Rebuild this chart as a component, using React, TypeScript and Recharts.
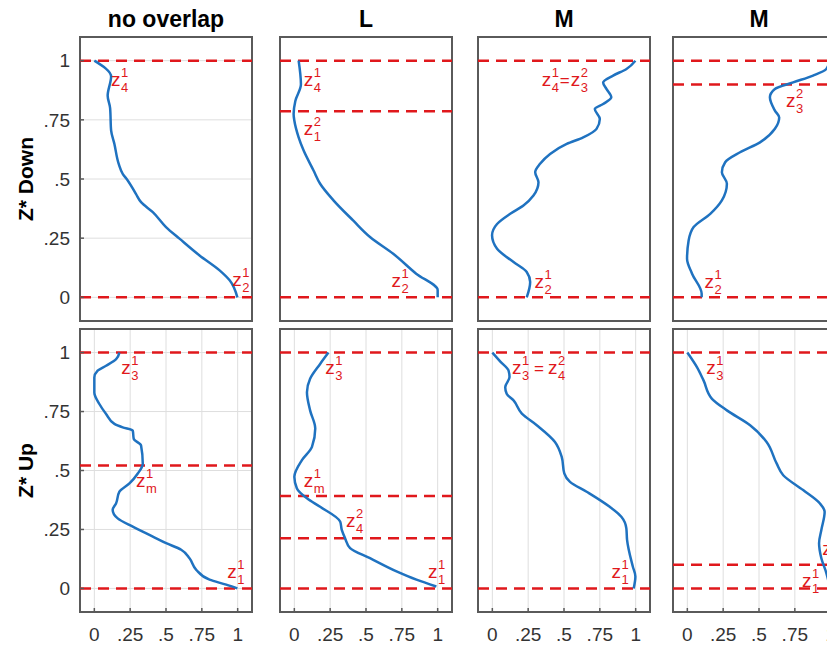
import React from 'react';
import { LineChart, Line, XAxis, YAxis, CartesianGrid, ReferenceLine, ReferenceDot, ReferenceArea } from 'recharts';

const ticks = [0, 0.25, 0.5, 0.75, 1];
const columnTitles = ['no overlap', 'L', 'M', 'M'];
const rowTitles = ['Z* Down', 'Z* Up'];

// velocity profiles, from the top (z = 1) down to the bottom (z = 0)
const downNoOverlap = [
  { x: 0.0, z: 1.0 }, { x: 0.117, z: 0.933 }, { x: 0.093, z: 0.852 }, { x: 0.11, z: 0.8 },
  { x: 0.117, z: 0.705 }, { x: 0.14, z: 0.648 }, { x: 0.17, z: 0.564 }, { x: 0.198, z: 0.522 },
  { x: 0.233, z: 0.494 }, { x: 0.29, z: 0.437 }, { x: 0.326, z: 0.402 }, { x: 0.408, z: 0.36 },
  { x: 0.5, z: 0.297 }, { x: 0.594, z: 0.248 }, { x: 0.734, z: 0.177 }, { x: 0.874, z: 0.114 },
  { x: 0.944, z: 0.072 }, { x: 0.998, z: 0.0 },
];
const downL = [
  { x: 0.03, z: 1.0 }, { x: 0.046, z: 0.9 }, { x: 0.007, z: 0.83 }, { x: -0.005, z: 0.775 },
  { x: 0.0, z: 0.747 }, { x: 0.03, z: 0.676 }, { x: 0.065, z: 0.62 }, { x: 0.134, z: 0.536 },
  { x: 0.18, z: 0.48 }, { x: 0.273, z: 0.41 }, { x: 0.41, z: 0.325 }, { x: 0.53, z: 0.254 },
  { x: 0.69, z: 0.184 }, { x: 0.85, z: 0.1 }, { x: 1.0, z: 0.03 }, { x: 1.0, z: 0.0 },
];
const downM1 = [
  { x: 0.998, z: 1.0 }, { x: 0.936, z: 0.965 }, { x: 0.843, z: 0.937 }, { x: 0.773, z: 0.908 },
  { x: 0.797, z: 0.88 }, { x: 0.83, z: 0.845 }, { x: 0.773, z: 0.817 }, { x: 0.715, z: 0.796 },
  { x: 0.75, z: 0.754 }, { x: 0.727, z: 0.712 }, { x: 0.634, z: 0.676 }, { x: 0.519, z: 0.648 },
  { x: 0.403, z: 0.606 }, { x: 0.333, z: 0.564 }, { x: 0.299, z: 0.529 }, { x: 0.322, z: 0.486 },
  { x: 0.287, z: 0.43 }, { x: 0.217, z: 0.388 }, { x: 0.125, z: 0.353 }, { x: 0.033, z: 0.31 },
  { x: -0.002, z: 0.262 }, { x: 0.033, z: 0.205 }, { x: 0.148, z: 0.149 }, { x: 0.24, z: 0.107 },
  { x: 0.264, z: 0.065 }, { x: 0.24, z: 0.0 },
];
const downM2 = [
  { x: 0.993, z: 1.0 }, { x: 0.97, z: 0.965 }, { x: 0.877, z: 0.937 }, { x: 0.738, z: 0.908 },
  { x: 0.611, z: 0.88 }, { x: 0.576, z: 0.845 }, { x: 0.611, z: 0.789 }, { x: 0.641, z: 0.76 },
  { x: 0.611, z: 0.712 }, { x: 0.507, z: 0.655 }, { x: 0.368, z: 0.613 }, { x: 0.264, z: 0.571 },
  { x: 0.241, z: 0.529 }, { x: 0.276, z: 0.48 }, { x: 0.241, z: 0.41 }, { x: 0.16, z: 0.353 },
  { x: 0.044, z: 0.297 }, { x: 0.009, z: 0.24 }, { x: -0.002, z: 0.163 }, { x: 0.033, z: 0.1 },
  { x: 0.1, z: 0.015 }, { x: 0.1, z: 0.0 },
];
const upNoOverlap = [
  { x: 0.175, z: 1.0 }, { x: 0.152, z: 0.972 }, { x: 0.082, z: 0.944 }, { x: 0.023, z: 0.923 },
  { x: 0.0, z: 0.894 }, { x: 0.0, z: 0.831 }, { x: 0.035, z: 0.782 }, { x: 0.082, z: 0.74 },
  { x: 0.14, z: 0.698 }, { x: 0.198, z: 0.683 }, { x: 0.268, z: 0.669 }, { x: 0.275, z: 0.634 },
  { x: 0.326, z: 0.606 }, { x: 0.338, z: 0.529 }, { x: 0.303, z: 0.487 }, { x: 0.245, z: 0.445 },
  { x: 0.175, z: 0.41 }, { x: 0.152, z: 0.361 }, { x: 0.128, z: 0.333 }, { x: 0.163, z: 0.297 },
  { x: 0.268, z: 0.262 }, { x: 0.408, z: 0.22 }, { x: 0.501, z: 0.192 }, { x: 0.606, z: 0.164 },
  { x: 0.664, z: 0.128 }, { x: 0.711, z: 0.079 }, { x: 0.804, z: 0.037 }, { x: 0.92, z: 0.016 },
  { x: 0.998, z: 0.0 },
];
const upL = [
  { x: 0.238, z: 1.0 }, { x: 0.18, z: 0.952 }, { x: 0.11, z: 0.889 }, { x: 0.088, z: 0.832 },
  { x: 0.11, z: 0.755 }, { x: 0.146, z: 0.678 }, { x: 0.123, z: 0.6 }, { x: 0.053, z: 0.544 },
  { x: 0.0, z: 0.473 }, { x: 0.018, z: 0.424 }, { x: 0.088, z: 0.382 }, { x: 0.18, z: 0.346 },
  { x: 0.32, z: 0.283 }, { x: 0.331, z: 0.248 }, { x: 0.354, z: 0.213 }, { x: 0.389, z: 0.171 },
  { x: 0.528, z: 0.128 }, { x: 0.713, z: 0.072 }, { x: 0.852, z: 0.037 }, { x: 0.991, z: 0.008 },
];
const upM1 = [
  { x: 0.0, z: 1.0 }, { x: 0.056, z: 0.962 }, { x: 0.113, z: 0.924 }, { x: 0.12, z: 0.896 },
  { x: 0.09, z: 0.853 }, { x: 0.1, z: 0.825 }, { x: 0.148, z: 0.797 }, { x: 0.206, z: 0.741 },
  { x: 0.31, z: 0.692 }, { x: 0.437, z: 0.621 }, { x: 0.484, z: 0.558 }, { x: 0.502, z: 0.488 },
  { x: 0.542, z: 0.452 }, { x: 0.658, z: 0.41 }, { x: 0.819, z: 0.346 }, { x: 0.9, z: 0.304 },
  { x: 0.935, z: 0.255 }, { x: 0.94, z: 0.206 }, { x: 0.98, z: 0.093 }, { x: 0.998, z: 0.051 },
  { x: 0.986, z: 0.0 },
];
const upM2 = [
  { x: 0.0, z: 1.0 }, { x: 0.067, z: 0.938 }, { x: 0.113, z: 0.882 }, { x: 0.172, z: 0.804 },
  { x: 0.276, z: 0.755 }, { x: 0.438, z: 0.692 }, { x: 0.553, z: 0.621 }, { x: 0.623, z: 0.53 },
  { x: 0.669, z: 0.48 }, { x: 0.808, z: 0.417 }, { x: 0.924, z: 0.361 }, { x: 0.958, z: 0.325 },
  { x: 0.935, z: 0.248 }, { x: 0.919, z: 0.192 }, { x: 0.935, z: 0.128 }, { x: 0.97, z: 0.065 },
  { x: 0.993, z: 0.008 },
];

// heights of the dashed red cuts
const downCuts = [[1, 0], [1, 0.786, 0], [1, 0], [1, 0.899, 0]];
const upCuts = [[1, 0.521, 0], [1, 0.392, 0.213, 0], [1, 0], [1, 0.1, 0]];

// z labels: [subscript, superscript] pairs joined by plain text
type Part = string | [string, string];
type Tag = { x: number; z: number; parts: Part[] };

const downTags: Tag[][] = [
  [{ x: 0.117, z: 0.895, parts: [['4', '1']] }, { x: 0.963, z: 0.05, parts: [['2', '1']] }],
  [
    { x: 0.065, z: 0.895, parts: [['4', '1']] },
    { x: 0.065, z: 0.684, parts: [['1', '2']] },
    { x: 0.678, z: 0.042, parts: [['2', '1']] },
  ],
  [{ x: 0.345, z: 0.895, parts: [['4', '1'], '=', ['3', '2']] }, { x: 0.294, z: 0.038, parts: [['2', '1']] }],
  [
    { x: 1.0, z: 1.076, parts: [['4', '1']] },
    { x: 0.6875, z: 0.803, parts: [['3', '2']] },
    { x: 0.12, z: 0.038, parts: [['2', '1']] },
  ],
];
const upTags: Tag[][] = [
  [
    { x: 0.187, z: 0.91, parts: [['3', '1']] },
    { x: 0.29, z: 0.431, parts: [['m', '1']] },
    { x: 0.928, z: 0.044, parts: [['1', '1']] },
  ],
  [
    { x: 0.215, z: 0.91, parts: [['3', '1']] },
    { x: 0.065, z: 0.431, parts: [['m', '1']] },
    { x: 0.361, z: 0.262, parts: [['4', '2']] },
    { x: 0.933, z: 0.044, parts: [['1', '1']] },
  ],
  [{ x: 0.137, z: 0.91, parts: [['3', '1'], ' = ', ['4', '2']] }, { x: 0.831, z: 0.044, parts: [['1', '1']] }],
  [
    { x: 0.132, z: 0.91, parts: [['3', '1']] },
    { x: 0.942, z: 0.142, parts: [['4', '2']] },
    { x: 0.8, z: 0.008, parts: [['1', '1']] },
  ],
];

const rows = [
  { profiles: [downNoOverlap, downL, downM1, downM2], cuts: downCuts, tags: downTags },
  { profiles: [upNoOverlap, upL, upM1, upM2], cuts: upCuts, tags: upTags },
];

const FONT = 'Liberation Sans, Arial, Helvetica, sans-serif';
const RED = '#e0181c';
const BLUE = '#1f72c0';
const FRAME = '#5a5a5a';

const frameLeft = [72, 272, 470, 665];
const frameTop = [29, 321];
const frameW = 172;
const frameH = [284, 283];
const DOMAIN: [number, number] = [-0.1, 1.1];

const fmt = (v: number) => (v === 0 ? '0' : v === 1 ? '1' : String(v).replace(/^0/, ''));

const ZLabel = ({ cx, cy, parts }: { cx: number; cy: number; parts: Part[] }) => {
  let x = cx;
  const out: React.ReactNode[] = [];
  parts.forEach((p, i) => {
    if (typeof p === 'string') {
      const wide = p.length > 1;
      out.push(
        <text key={i} x={x + (wide ? 4 : 0)} y={cy} fontSize={17} fill={RED} fontFamily={FONT}>
          {p.trim()}
        </text>
      );
      x += wide ? 18 : 11;
    } else {
      out.push(
        <text key={i} x={x} y={cy} fontSize={19} fill={RED} fontFamily={FONT}>
          z
        </text>
      );
      x += 10;
      out.push(
        <text key={i + 's'} x={x} y={cy + 6} fontSize={13} fill={RED} fontFamily={FONT}>
          {p[0]}
        </text>,
        <text key={i + 'p'} x={x} y={cy - 9} fontSize={13} fill={RED} fontFamily={FONT}>
          {p[1]}
        </text>
      );
      x += p[0] === 'm' ? 11 : 8;
    }
  });
  return <g>{out}</g>;
};

const Panel = ({ row, col }: { row: number; col: number }) => {
  const data = rows[row].profiles[col];
  const cuts = rows[row].cuts[col];
  const tags = rows[row].tags[col];
  // axes that carry no labels still need a sliver of room to be drawn
  const yw = col === 0 ? 70 : 1;
  const xh = row === 1 ? 40 : 1;
  const mt = 13;
  const mr = 15;
  const tickStyle = { fill: '#333', fontSize: 19, fontFamily: FONT };
  const edge = { stroke: FRAME, strokeWidth: 1.5 };
  return (
    <div style={{ position: 'absolute', left: frameLeft[col] - yw, top: frameTop[row] - mt - 1 }}>
      <LineChart
        width={yw + frameW + 1 + mr}
        height={mt + 1 + frameH[row] + xh}
        data={data}
        margin={{ top: mt, right: mr, left: 0, bottom: 0 }}
      >
        <CartesianGrid stroke="#dedede" strokeWidth={1} />
        <XAxis
          dataKey="x"
          type="number"
          domain={DOMAIN}
          ticks={ticks}
          interval={0}
          tickFormatter={fmt}
          height={xh}
          tick={row === 1 ? tickStyle : false}
          tickSize={-4}
          tickMargin={20}
          axisLine={false}
          tickLine={edge}
        />
        <XAxis
          xAxisId="top"
          orientation="top"
          type="number"
          domain={DOMAIN}
          ticks={ticks}
          interval={0}
          height={1}
          tick={false}
          tickSize={-4}
          axisLine={false}
          tickLine={edge}
        />
        <YAxis
          type="number"
          domain={DOMAIN}
          ticks={ticks}
          interval={0}
          tickFormatter={fmt}
          width={yw}
          tick={col === 0 ? tickStyle : false}
          tickSize={-4}
          tickMargin={14}
          axisLine={false}
          tickLine={edge}
        />
        <YAxis
          yAxisId="right"
          orientation="right"
          type="number"
          domain={DOMAIN}
          ticks={ticks}
          interval={0}
          width={1}
          tick={false}
          tickSize={-4}
          axisLine={false}
          tickLine={edge}
        />
        {cuts.map((c) => (
          <ReferenceLine key={c} y={c} stroke={RED} strokeWidth={2.5} strokeDasharray="11 7" />
        ))}
        <Line type="monotoneY" dataKey="z" stroke={BLUE} strokeWidth={2.5} dot={false} isAnimationActive={false} />
        <ReferenceArea
          x1={DOMAIN[0]}
          x2={DOMAIN[1]}
          y1={DOMAIN[0]}
          y2={DOMAIN[1]}
          fill="none"
          fillOpacity={0}
          stroke={FRAME}
          strokeWidth={2}
          ifOverflow="visible"
        />
        {tags.map((t, i) => (
          <ReferenceDot
            key={i}
            x={t.x}
            y={t.z}
            r={1}
            ifOverflow="visible"
            shape={(p: any) => <ZLabel cx={p.cx} cy={p.cy} parts={t.parts} />}
          />
        ))}
      </LineChart>
    </div>
  );
};

export default function App() {
  return (
    <div style={{ position: 'relative', width: 827, height: 643, overflow: 'hidden', background: '#fff' }}>
      {[0, 1].map((r) => [0, 1, 2, 3].map((c) => <Panel key={`${r}-${c}`} row={r} col={c} />))}
      <svg width={827} height={643} style={{ position: 'absolute', left: 0, top: 0, pointerEvents: 'none' }}>
        {columnTitles.map((t, i) => (
          <text
            key={i}
            x={frameLeft[i] + frameW / 2}
            y={19}
            textAnchor="middle"
            fontSize={23}
            fontWeight="bold"
            fontFamily={FONT}
            fill="#000"
          >
            {t}
          </text>
        ))}
        {rowTitles.map((t, i) => {
          const cy = frameTop[i] + frameH[i] / 2;
          return (
            <text
              key={t}
              x={25}
              y={cy}
              transform={`rotate(-90 25 ${cy})`}
              textAnchor="middle"
              fontSize={21}
              fontWeight="bold"
              fontFamily={FONT}
              fill="#000"
            >
              {t}
            </text>
          );
        })}
      </svg>
    </div>
  );
}
